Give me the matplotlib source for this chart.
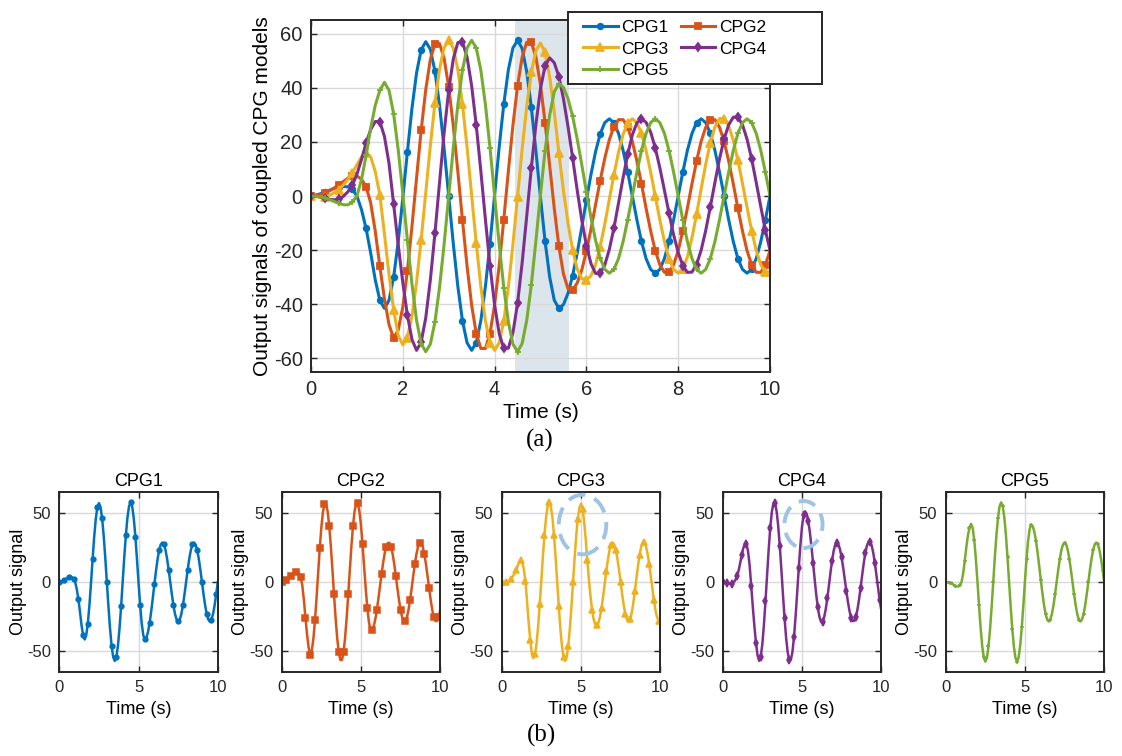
import numpy as np
import matplotlib
matplotlib.use("Agg")
import matplotlib.pyplot as plt
from matplotlib.patches import Ellipse, Rectangle

plt.rcParams["font.family"] = ["Liberation Sans", "DejaVu Sans"]
plt.rcParams["axes.unicode_minus"] = False

# time axis, 0.1 s steps
t = np.linspace(0, 10, 101)

cpg1 = [0, 0.3, 0.8, 1.4, 2.1, 2.8, 3.3, 3.5, 3.4, 2.5,
        0, -5, -12, -21, -31, -38.5, -41.5, -38.5, -30.0, -16.9,
        -0.8, 16.3, 32.4, 45.5, 54.0, 57.0, 54.2, 46.1, 33.5, 17.6,
        0, -17.6, -33.5, -46.1, -54.2, -57.0, -54.2, -46.1, -33.4, -17.6,
        0.3, 18.1, 33.9, 46.6, 54.7, 57.5, 54.5, 45.9, 32.8, 16.6,
        -0.6, -16.8, -29.9, -38.5, -41.5, -40.1, -35.9, -29.4, -21.0, -11.5,
        -1.5, 8.0, 16.4, 22.9, 27.1, 28.5, 27.1, 23.1, 16.8, 8.8,
        0, -8.8, -16.8, -23.1, -27.1, -28.5, -27.1, -23.1, -16.8, -8.8,
        0, 8.8, 16.8, 23.1, 27.1, 28.5, 27.1, 23.1, 16.8, 8.8,
        0, -8.8, -16.8, -23.1, -27.1, -28.5, -27.1, -23.1, -16.8, -8.8,
        0]

cpg2 = [0, 0.1, 0.5, 1.1, 1.9, 2.9, 4.1, 5.3, 6.5, 7.3,
        7.4, 6.2, 3.5, -2.5, -13, -26, -38, -47.5, -52.5, -49.5,
        -41.0, -27.6, -11.2, 6.7, 24.3, 39.3, 50.4, 56.2, 56.3, 50.8,
        40.3, 25.9, 8.9, -8.9, -25.9, -40.3, -50.8, -56.3, -56.3, -50.8,
        -40.2, -25.7, -8.7, 9.2, 26.2, 40.7, 51.3, 56.8, 56.8, 51.3,
        41.0, 27.1, 11.2, -4.6, -18.5, -28.8, -34.3, -34.7, -32.1, -27.3,
        -20.4, -12.2, -3.2, 5.7, 13.9, 20.8, 25.6, 28.2, 28.2, 25.4,
        20.2, 12.9, 4.5, -4.5, -12.9, -20.2, -25.4, -28.2, -28.2, -25.4,
        -20.2, -12.9, -4.5, 4.5, 12.9, 20.2, 25.4, 28.2, 28.2, 25.4,
        20.2, 12.9, 4.5, -4.5, -12.9, -20.2, -25.4, -28.2, -28.2, -25.4,
        -20.2]

cpg3 = [0, -0.2, -0.3, -0.2, 0.3, 1.2, 2.4, 4.0, 6.0, 8.5,
        11.5, 14.5, 16.0, 14.5, 9.0, 0.5, -14, -29, -42, -51.5,
        -55.0, -52.3, -44.3, -31.8, -16.1, 1.2, 18.6, 34.3, 46.8, 54.8,
        57.5, 54.7, 46.6, 33.9, 18.0, 0.2, -17.4, -33.4, -46.1, -54.2,
        -57.0, -54.2, -46.2, -33.6, -17.8, -0.2, 17.3, 33.1, 45.7, 53.7,
        56.5, 53, 44, 31, 16, 2, -10, -20, -27, -30.5,
        -31.0, -29.5, -25.3, -18.7, -10.4, -1.2, 7.9, 16.2, 22.8, 27.0,
        28.5, 27.1, 23.1, 16.8, 8.8, 0, -8.8, -16.8, -23.1, -27.1,
        -28.5, -27.0, -22.5, -15.4, -6.8, 2.6, 11.8, 19.7, 25.5, 28.6,
        28.6, 25.9, 20.6, 13.3, 4.7, -4.2, -12.8, -20.1, -25.4, -28.1,
        -28.1]

cpg4 = [0, -0.1, -0.4, -0.8, -1.2, -1.4, -1.2, -0.2, 1.5, 4.0,
        8.0, 13.5, 19.5, 24.5, 27.5, 27.5, 22, 12, -3, -18,
        -32, -44, -53, -57, -53.9, -45.0, -31.0, -13.8, 4.9, 23.3,
        39.0, 50.6, 56.7, 56.8, 51.3, 40.7, 26.2, 9.2, -8.7, -25.7,
        -40.2, -50.8, -56.3, -56.2, -50.5, -39.6, -24.7, -7.4, 10.3, 26.4,
        39.7, 48.1, 51.0, 49.2, 44.1, 35.9, 25.6, 14.0, 2.1, -9.0,
        -18.3, -25.0, -28.6, -28.6, -25.5, -19.7, -11.8, -2.6, 6.8, 15.4,
        22.5, 27.0, 28.5, 27.2, 23.6, 17.8, 10.4, 2.1, -6.4, -14.3,
        -20.9, -25.7, -28.2, -28.1, -25.3, -20.0, -12.7, -4.0, 5.0, 13.7,
        21.0, 26.3, 29.1, 29.1, 26.3, 21.0, 13.7, 5.0, -4.0, -12.7,
        -20.0]

cpg5 = [0, -0.1, -0.3, -0.7, -1.3, -2.0, -2.7, -3.2, -3.3, -2.2,
        0, 6, 15, 25, 33.5, 39, 42, 39.0, 30.4, 17.1,
        0.9, -16.4, -32.6, -45.9, -54.5, -57.5, -54.7, -46.5, -33.8, -17.8,
        0, 17.8, 33.8, 46.5, 54.7, 57.5, 54.7, 46.5, 33.8, 17.8,
        0, -17.8, -33.8, -46.5, -54.7, -57.5, -54.5, -45.9, -32.8, -16.6,
        0.6, 16.8, 29.9, 38.5, 41.5, 40.1, 35.9, 29.4, 21.0, 11.5,
        1.5, -8.0, -16.4, -22.9, -27.1, -28.5, -27.1, -23.1, -16.8, -8.8,
        0, 8.8, 16.8, 23.1, 27.1, 28.5, 27.1, 23.1, 16.8, 8.8,
        0, -8.8, -16.8, -23.1, -27.1, -28.5, -27.1, -23.1, -16.8, -8.8,
        0, 8.8, 16.8, 23.1, 27.1, 28.5, 27.1, 23.1, 16.8, 8.8,
        0]

names = ["CPG1", "CPG2", "CPG3", "CPG4", "CPG5"]
signals = [cpg1, cpg2, cpg3, cpg4, cpg5]
colors = ["#0072BD", "#D95319", "#EDB120", "#7E2F8E", "#77AC30"]
markers = ["o", "s", "^", "d", "+"]
msizes = [4, 4.5, 5.5, 4.5, 4]

shade = (4.45, 5.62)          # highlighted window in (a)
ellipses = {2: (5.1, 41.5, 3.0, 43), 3: (5.1, 41.5, 2.4, 34)}

W, H = 1122, 756


def style_axes(ax, fs, pad):
    ax.grid(True, color="#d9d9d9", linewidth=1.0)
    ax.set_axisbelow(True)
    ax.tick_params(direction="in", top=True, right=True, labelsize=fs,
                   length=4, width=1.0, colors="#262626", pad=pad)
    for s in ax.spines.values():
        s.set_linewidth(1.4)
        s.set_color("#262626")


fig = plt.figure(figsize=(W / 100, H / 100), dpi=100)

# (a) all five signals
ax = fig.add_axes([311 / W, 1 - 372 / H, 459 / W, 352 / H])
ax.axvspan(shade[0], shade[1], color="#dce5ec", zorder=0.5, linewidth=0)
lines = []
for y, c, m, ms, n in zip(signals, colors, markers, msizes, names):
    ln, = ax.plot(t, y, color=c, lw=2.2, marker=m, ms=ms, markevery=3,
                  mew=1.3, label=n, zorder=2)
    lines.append(ln)
ax.set_xlim(0, 10)
ax.set_ylim(-65, 65)
ax.set_xticks([0, 2, 4, 6, 8, 10])
ax.set_yticks([-60, -40, -20, 0, 20, 40, 60])
style_axes(ax, 14.5, 6)
ax.set_xlabel("Time (s)", fontsize=15, labelpad=3)
ax.set_ylabel("Output signals of coupled CPG models", fontsize=15, labelpad=1)

# legend box (drawn separately so its padding matches the original)
fig.add_artist(Rectangle((568 / W, 1 - 83.5 / H), 254 / W, 71.5 / H,
                         transform=fig.transFigure, facecolor="white",
                         edgecolor="#262626", linewidth=1.4, zorder=4))
order = [0, 2, 4, 1, 3]
leg = fig.legend([lines[i] for i in order], [names[i] for i in order],
                 ncol=2, loc="upper left",
                 bbox_to_anchor=(583 / W, 1 - 20 / H),
                 fontsize=12.5, frameon=False, handlelength=2.0,
                 handletextpad=0.2, columnspacing=0.7, labelspacing=0.36,
                 borderpad=0, borderaxespad=0)
leg.set_zorder(5)

fig.text(540 / W, 1 - 440 / H, "(a)", ha="center", va="center",
         fontsize=18, family=["Liberation Serif", "DejaVu Serif"])

# (b) one panel per signal
lefts = [59.3, 281.7, 501.7, 722.7, 945.7]
for i, (y, c, m, ms, n) in enumerate(zip(signals, colors, markers, msizes, names)):
    bx = fig.add_axes([lefts[i] / W, 1 - 672 / H, 158.5 / W, 180 / H])
    bx.plot(t, y, color=c, lw=1.8, marker=m, ms=ms * 0.85, markevery=3,
            mew=1.1)
    bx.set_xlim(0, 10)
    bx.set_ylim(-65, 65)
    bx.set_xticks([0, 5, 10])
    bx.set_yticks([-50, 0, 50])
    style_axes(bx, 12, 6)
    bx.set_title(n, fontsize=13, pad=4)
    bx.set_xlabel("Time (s)", fontsize=13, labelpad=4)
    bx.set_ylabel("Output signal", fontsize=13, labelpad=0)
    if i in ellipses:
        ex, ey, ew, eh = ellipses[i]
        bx.add_patch(Ellipse((ex, ey), ew, eh, fill=False,
                             edgecolor="#9dc3e6", lw=2.8,
                             linestyle=(0, (4.5, 2.5)), zorder=3,
                             clip_on=False))

fig.text(541 / W, 1 - 735 / H, "(b)", ha="center", va="center",
         fontsize=18, family=["Liberation Serif", "DejaVu Serif"])

fig.savefig("out.png", dpi=100)
